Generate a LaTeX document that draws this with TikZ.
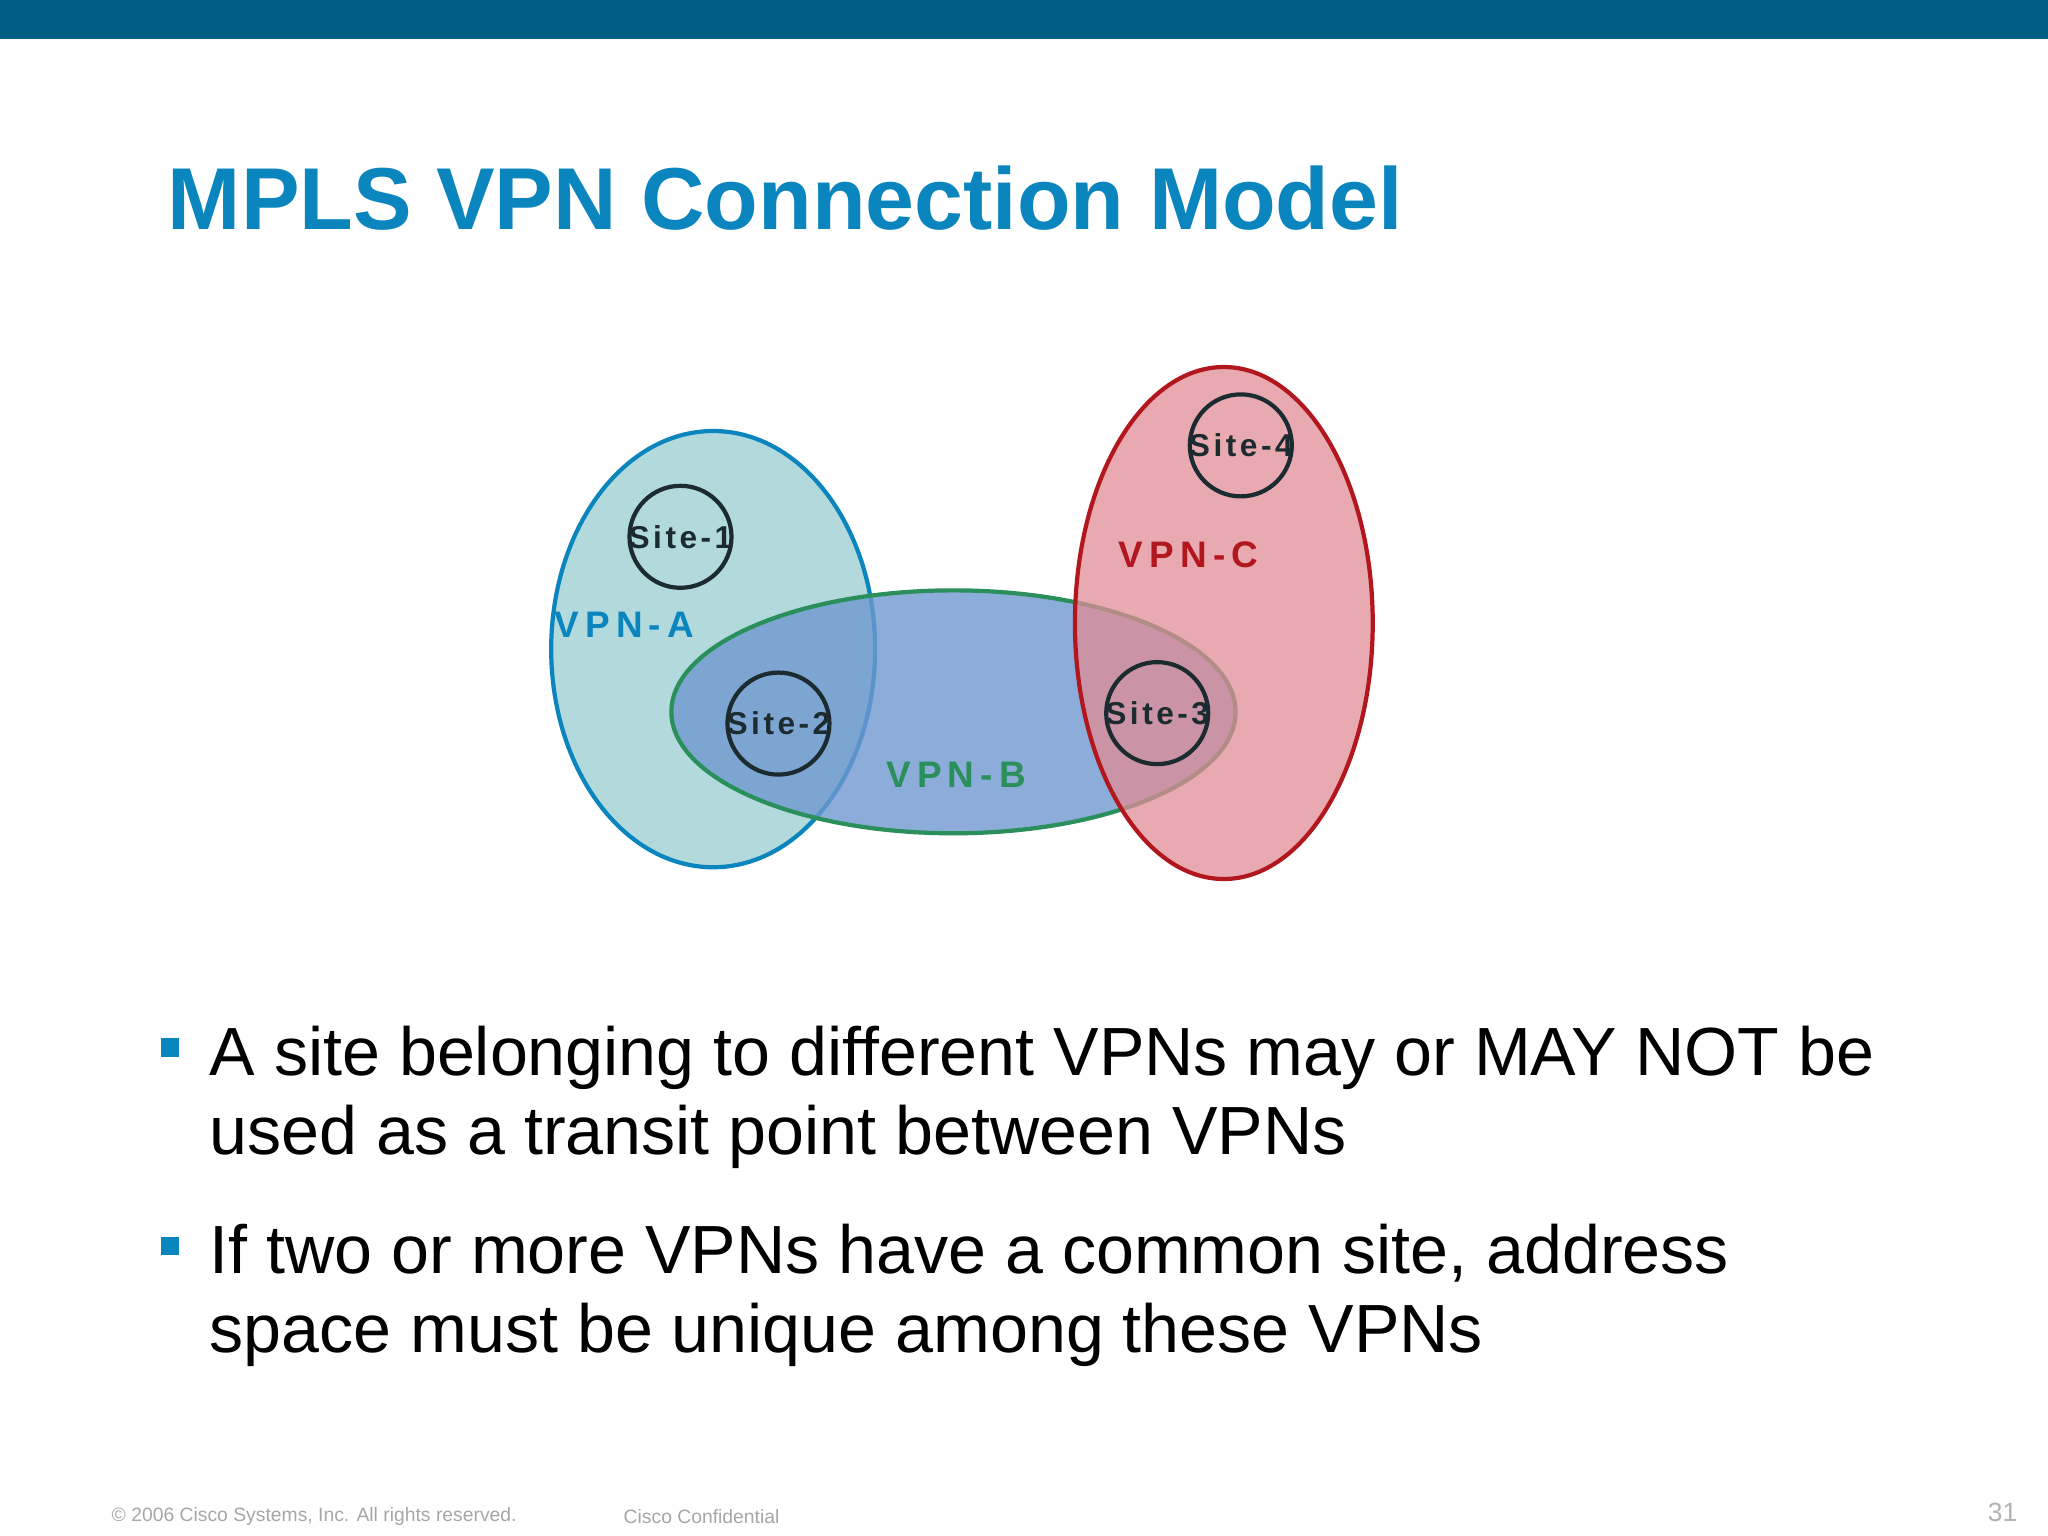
\documentclass[tikz,border=0pt]{standalone}
\usepackage{fontspec}
\setmainfont{Liberation Sans}
\definecolor{bar}{HTML}{005E85}
\definecolor{ttl}{HTML}{0A85BE}
\definecolor{aF}{HTML}{B2DADD}
\definecolor{bF}{HTML}{6F98CF}
\definecolor{bS}{HTML}{2A8F5A}
\definecolor{cF}{HTML}{E08C95}
\definecolor{cS}{HTML}{B3171E}
\definecolor{siteS}{HTML}{1C2B30}
\begin{document}
\begin{tikzpicture}[x=0.013061cm,y=-0.013061cm,
  site/.style={circle,draw=siteS,line width=1.2pt,minimum size=1.02cm,inner sep=0pt,
    label={[text=siteS,font=\bfseries\fontsize{9}{10}\selectfont]center:#1}},
  vlab/.style={font=\bfseries\fontsize{10.5}{12}\selectfont},
  bul/.style={anchor=west,font=\fontsize{19.4}{22.5}\selectfont,align=left},
  foot/.style={anchor=west,text=gray!70,font=\fontsize{5.5}{6}\selectfont}]
\useasboundingbox (0,0) rectangle (1568,1176);
\fill[bar] (0,0) rectangle (1568,30);
\node[anchor=west,text=ttl,font=\bfseries\fontsize{25}{30}\selectfont,inner sep=0pt] (title) at (128,152) {MPLS VPN Connection Model};
\draw[ttl,line width=1.2pt,fill=aF] (546,497) ellipse [x radius=124,y radius=167];
\draw[bS,line width=1.2pt,fill=bF,fill opacity=0.8] (730,545) ellipse [x radius=216,y radius=93];
\draw[cS,line width=1.2pt,fill=cF,fill opacity=0.75] (937,477) ellipse [x radius=114,y radius=196];
\node[site={S\kern1pt i\kern1pt t\kern1pt e\kern1pt -\kern1pt 1}] (s1) at (521,411) {};
\node[site={S\kern1pt i\kern1pt t\kern1pt e\kern1pt -\kern1pt 2}] (s2) at (596,554) {};
\node[site={S\kern1pt i\kern1pt t\kern1pt e\kern1pt -\kern1pt 3}] (s3) at (886,546) {};
\node[site={S\kern1pt i\kern1pt t\kern1pt e\kern1pt -\kern1pt 4}] (s4) at (950,341) {};
\node[vlab,text=ttl] (va) at (478,478) {V\,P\,N\,-\,A};
\node[vlab,text=cS] (vc) at (910,425) {V\,P\,N\,-\,C};
\node[vlab,text=bS] (vb) at (732,593) {V\,P\,N\,-\,B};
\fill[ttl] (123,795) rectangle (137,809);
\fill[ttl] (123,947) rectangle (137,961);
\node[bul,inner sep=0pt] (b1) at (160,840) {A site belonging to different VPNs may or MAY NOT be\\used as a transit point between VPNs};
\node[bul,inner sep=0pt] (b2) at (160,992) {If two or more VPNs have a common site, address\\space must be unique among these VPNs};
\node[foot] (f1) at (76,1161) {© 2006 Cisco Systems, Inc. All rights reserved.};
\node[foot] (f2) at (468,1161) {Cisco Confidential};
\node[anchor=east,text=gray!60,font=\fontsize{7.5}{8}\selectfont] (pg) at (1554,1158) {31};
\end{tikzpicture}
\end{document}
